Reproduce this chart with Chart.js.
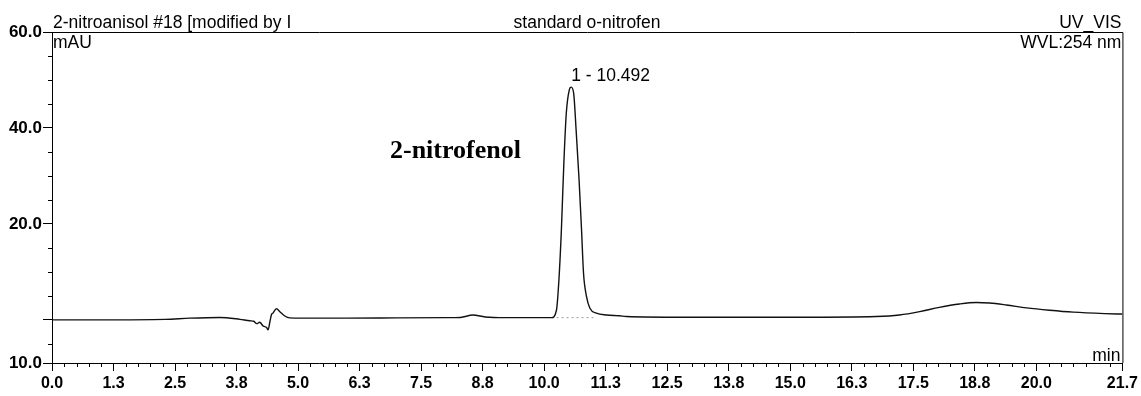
<!DOCTYPE html>
<html>
<head>
<meta charset="utf-8">
<script src="https://cdn.jsdelivr.net/npm/chart.js@4/dist/chart.umd.min.js"></script>
<style>
  body { margin: 0; background: #fff; }
  #wrap { width: 1141px; height: 396px; }
</style>
</head>
<body>
<div id="wrap"><canvas id="myChart"></canvas></div>
<script>
// retention time (min) and signal (mAU)
var tempos = [0, 1.0, 2.3, 2.8, 3.41, 3.82, 4.02, 4.10, 4.16, 4.22, 4.29, 4.36, 4.39, 4.43, 4.46, 4.49, 4.56, 4.63, 4.73, 4.83, 5.07, 6.0, 7.0, 8.0, 8.3, 8.55, 8.8, 9.2, 10.0, 10.15, 10.25, 10.30, 10.35, 10.40, 10.45, 10.51, 10.55, 10.60, 10.65, 10.71, 10.76, 10.80, 10.86, 10.93, 11.06, 11.27, 11.53, 11.67, 12.82, 15.19, 16.75, 17.22, 17.63, 18.03, 18.44, 18.78, 19.05, 19.39, 19.80, 20.27, 20.75, 21.39, 21.75];
var sinal = [0.0, 0.0, 0.1, 0.35, 0.5, 0.1, -0.2, -0.3, -0.8, -0.5, -1.3, -1.6, -2.1, -0.3, 1.1, 1.4, 2.3, 1.7, 0.8, 0.4, 0.35, 0.35, 0.4, 0.45, 0.5, 1.0, 0.6, 0.45, 0.45, 0.45, 2.0, 8.3, 18.7, 32.6, 43.1, 47.9, 48.5, 47.2, 39.5, 29.1, 18.7, 9.7, 4.9, 2.4, 1.4, 1.0, 0.85, 0.7, 0.55, 0.55, 0.7, 1.0, 1.7, 2.6, 3.3, 3.6, 3.5, 3.1, 2.5, 2.0, 1.6, 1.3, 1.2];

// integration baseline under the peak
var baseTempos = [10.15, 11.0];
var baseSinal = [0.45, 0.45];

var picoTempo = 10.55;
var picoSinal = 48.5;
var picoLabel = "1 - 10.492";

var xTicks = [0, 1.25, 2.5, 3.75, 5, 6.25, 7.5, 8.75, 10, 11.25, 12.5, 13.75, 15, 16.25, 17.5, 18.75, 20, 21.75];
var xLabels = ["0.0", "1.3", "2.5", "3.8", "5.0", "6.3", "7.5", "8.8", "10.0", "11.3", "12.5", "13.8", "15.0", "16.3", "17.5", "18.8", "20.0", "21.7"];
var yTicks = [-9, 0, 20, 40, 60];
var yLabels = ["10.0", "", "20.0", "40.0", "60.0"];

var fonte = "'Liberation Sans', Arial, sans-serif";

function pontos(xs, ys) {
  var out = [];
  for (var i = 0; i < xs.length; i++) {
    out.push({ x: xs[i], y: ys[i] });
  }
  return out;
}

var textos = {
  id: "textos",
  afterDraw: function (chart) {
    var ctx = chart.ctx;
    var a = chart.chartArea;
    var xs = chart.scales.x;
    var ys = chart.scales.y;
    ctx.save();

    // box top and right
    ctx.strokeStyle = "#000";
    ctx.lineWidth = 1;
    ctx.beginPath();
    ctx.moveTo(a.left, a.top + 0.5);
    ctx.lineTo(a.right + 0.5, a.top + 0.5);
    ctx.lineTo(a.right + 0.5, a.bottom);
    ctx.stroke();

    // minor ticks
    ctx.beginPath();
    for (var t = 0.25; t < 21.75; t += 0.25) {
      if (Math.abs(t / 1.25 - Math.round(t / 1.25)) < 0.001) continue;
      var px = Math.round(xs.getPixelForValue(t)) + 0.5;
      ctx.moveTo(px, a.bottom);
      ctx.lineTo(px, a.bottom + 4);
    }
    for (var v = -5; v < 60; v += 5) {
      if (yTicks.indexOf(v) >= 0) continue;
      var py = Math.round(ys.getPixelForValue(v)) + 0.5;
      ctx.moveTo(a.left - 4, py);
      ctx.lineTo(a.left, py);
    }
    ctx.stroke();

    ctx.fillStyle = "#000";
    ctx.font = "17.5px " + fonte;
    ctx.textBaseline = "alphabetic";
    ctx.textAlign = "left";
    ctx.fillText("2-nitroanisol #18 [modified by I", a.left + 1, a.top - 4);
    ctx.fillText("mAU", a.left + 1, a.top + 16);
    ctx.textAlign = "center";
    ctx.fillText("standard o-nitrofen", 587, a.top - 4);
    ctx.textAlign = "right";
    ctx.fillText("UV_VIS", a.right - 1, a.top - 4);
    ctx.fillText("WVL:254 nm", a.right - 1, a.top + 16);
    ctx.fillText("min", a.right - 2, a.bottom - 2);

    ctx.textAlign = "left";
    ctx.fillText(picoLabel, xs.getPixelForValue(picoTempo), ys.getPixelForValue(picoSinal) - 6);

    ctx.font = "bold 26px 'Liberation Serif', 'Times New Roman', serif";
    ctx.fillText("2-nitrofenol", 390, 158);
    ctx.restore();
  }
};

const data = {
  datasets: [
    {
      label: "UV_VIS",
      data: pontos(tempos, sinal),
      borderColor: "#111",
      borderWidth: 1.4,
      pointRadius: 0,
      cubicInterpolationMode: "monotone",
      fill: false,
    },
    {
      label: "baseline",
      data: pontos(baseTempos, baseSinal),
      borderColor: "#999",
      borderWidth: 1,
      borderDash: [2, 3],
      pointRadius: 0,
      fill: false,
    },
  ],
};

const config = {
  type: "line",
  data: data,
  options: {
    responsive: true,
    maintainAspectRatio: false,
    animation: false,
    layout: { padding: { top: 32, right: 18, left: 0, bottom: 0 } },
    plugins: { legend: { display: false }, tooltip: { enabled: false } },
    scales: {
      x: {
        type: "linear",
        min: 0,
        max: 21.75,
        afterBuildTicks: function (scale) {
          scale.ticks = xTicks.map(function (v) { return { value: v }; });
        },
        afterFit: function (scale) { scale.height = 33; },
        ticks: {
          autoSkip: false,
          maxRotation: 0,
          padding: 3,
          color: "#000",
          font: { family: fonte, size: 16, weight: "bold" },
          callback: function (value) {
            var i = xTicks.indexOf(value);
            return i >= 0 ? xLabels[i] : "";
          },
        },
        grid: { drawOnChartArea: false, tickLength: 8, color: "#000" },
        border: { color: "#000", width: 1 },
      },
      y: {
        type: "linear",
        min: -9,
        max: 60,
        afterBuildTicks: function (scale) {
          scale.ticks = yTicks.map(function (v) { return { value: v }; });
        },
        afterFit: function (scale) { scale.width = 52; },
        ticks: {
          autoSkip: false,
          padding: 1,
          color: "#000",
          font: { family: fonte, size: 17, weight: "bold" },
          callback: function (value) {
            var i = yTicks.indexOf(value);
            return i >= 0 ? yLabels[i] : "";
          },
        },
        grid: { drawOnChartArea: false, tickLength: 9, color: "#000" },
        border: { color: "#000", width: 1 },
      },
    },
  },
  plugins: [textos],
};

const myChart = new Chart(document.getElementById("myChart"), config);
</script>
</body>
</html>
